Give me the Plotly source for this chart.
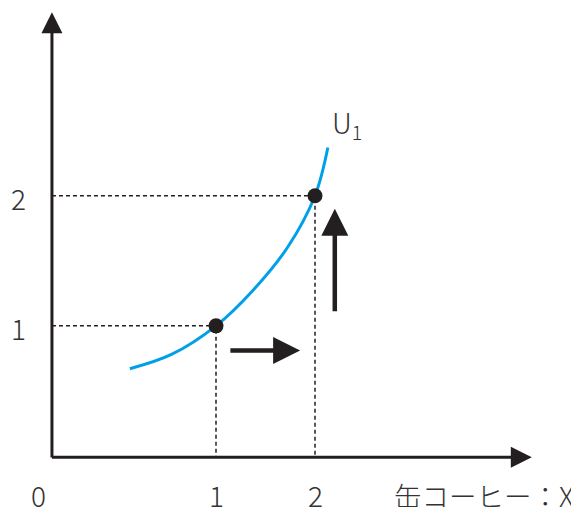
import plotly.graph_objects as go

# --- data ---
# indifference curve U1 (spline through points)
curve_x = [0.13, 0.55, 1.0, 1.37, 1.72, 2.0, 2.13]
curve_y = [0.67, 0.78, 1.0, 1.27, 1.60, 2.0, 2.37]

# the two marked bundles
point_x = [1, 2]
point_y = [1, 2]

tick_vals = [1, 2]
tick_text = ["1", "2"]

# axis ends (schematic: the y axis sits left of x=0 in this drawing)
axis_origin = [-0.657, -0.01]
axis_tip_x = 4.19
axis_tip_y = 3.41

# movement arrows: (x0, y0) -> (x1, y1)
move_right = [1.13, 0.81, 1.85, 0.81]
move_up = [2.2, 1.1, 2.2, 1.9]

x_title = "缶コーヒー：X"
curve_name = "U<sub>1</sub>"

INK = "#231f20"
TXT = "#333333"
FONT = "Noto Sans CJK JP"
CYAN = "#00a0e9"

fig = go.Figure()

# dashed guides from the axes to each point
for px, py in zip(point_x, point_y):
    fig.add_trace(go.Scatter(
        x=[axis_origin[0], px, px], y=[py, py, axis_origin[1]],
        mode="lines", line=dict(color=INK, width=1.5, dash="4px,3px"),
        hoverinfo="skip"
    ))

fig.add_trace(go.Scatter(
    x=curve_x, y=curve_y, mode="lines",
    line=dict(color=CYAN, width=3, shape="spline", smoothing=1.0),
    hoverinfo="skip"
))

fig.add_trace(go.Scatter(
    x=point_x, y=point_y, mode="markers",
    marker=dict(color=INK, size=15),
    hoverinfo="skip"
))

annotations = []

def arrow(x0, y0, x1, y1, width, size):
    return dict(x=x1, y=y1, ax=x0, ay=y0, xref="x", yref="y", axref="x", ayref="y",
                showarrow=True, arrowhead=2, arrowwidth=width, arrowsize=size,
                arrowcolor=INK, text="")

# axes
annotations.append(arrow(axis_origin[0], axis_origin[1] - 0.013, axis_origin[0], axis_tip_y, 3, 1.4))
annotations.append(arrow(axis_origin[0] - 0.015, axis_origin[1], axis_tip_x, axis_origin[1], 3, 1.4))
# movement arrows
annotations.append(arrow(*move_right, 4.5, 1.2))
annotations.append(arrow(*move_up, 4.5, 1.2))

def label(x, y, text, xshift=0, yshift=0, size=28, xanchor="center"):
    return dict(x=x, y=y, xref="x", yref="y", text=text, showarrow=False,
                xshift=xshift, yshift=yshift, xanchor=xanchor, yanchor="middle",
                font=dict(family=FONT, size=size, color=TXT, weight=300))

for v, t in zip(tick_vals, tick_text):
    annotations.append(label(v, axis_origin[1], t, yshift=-38))
    annotations.append(label(axis_origin[0], v, t, xshift=-33, yshift=-2))
annotations.append(label(axis_origin[0], axis_origin[1], "0", xshift=-13, yshift=-38))
annotations.append(label(axis_tip_x, axis_origin[1], x_title, xshift=44, yshift=-38,
                         size=27.5, xanchor="right"))
annotations.append(label(curve_x[-1], curve_y[-1], curve_name, xshift=2, yshift=24,
                         xanchor="left"))

# the page body adds an 8px margin, so the figure is 8px smaller and
# the ranges start where the visible window starts
fig.update_layout(
    width=571, height=499,
    margin=dict(l=0, r=0, t=0, b=0),
    paper_bgcolor="white", plot_bgcolor="white",
    showlegend=False,
    xaxis=dict(range=[-1.101, 4.6667], visible=False, fixedrange=True),
    yaxis=dict(range=[-0.392, 3.442], visible=False, fixedrange=True),
    annotations=annotations,
)

fig.write_html("out.html")
